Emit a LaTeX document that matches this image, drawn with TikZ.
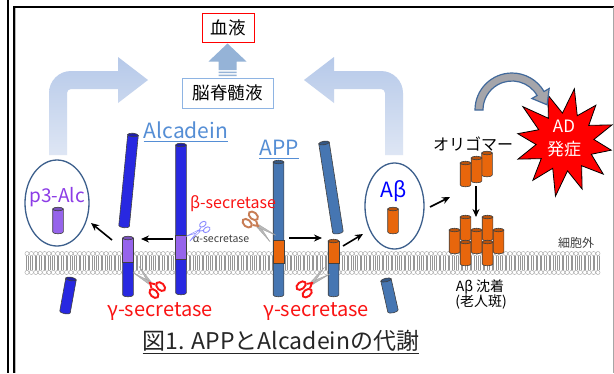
\documentclass[tikz,border=0pt]{standalone}
\usepackage{fontspec}
\setmainfont{Noto Sans CJK JP}
\usetikzlibrary{arrows.meta,shapes.geometric,calc}

\definecolor{alcblue}{RGB}{40,40,225}
\definecolor{appblue}{RGB}{70,118,178}
\definecolor{abor}{RGB}{232,102,12}
\definecolor{p3pur}{RGB}{150,100,235}
\definecolor{p3text}{RGB}{140,60,230}
\definecolor{labblue}{RGB}{85,142,213}
\definecolor{csfline}{RGB}{142,180,227}
\definecolor{csfblue}{RGB}{149,179,215}
\definecolor{flowtop}{RGB}{182,201,233}
\definecolor{flowbot}{RGB}{222,230,244}
\definecolor{ringblue}{RGB}{60,95,140}
\definecolor{gred}{RGB}{250,20,20}
\definecolor{lipid}{RGB}{150,150,150}
\definecolor{brownh}{RGB}{200,125,85}
\definecolor{captxt}{RGB}{38,38,38}
\definecolor{bendfill}{RGB}{165,165,170}
\definecolor{bendline}{RGB}{65,105,155}

\newcommand\fs[1]{\fontsize{#1}{#1}\selectfont}
\def\rw{5.3}
% cylinder pieces (vertical, y grows downwards)
\newcommand\rodbody[4]{\filldraw[fill=#4,rodedge] (#1-\rw,#2) -- (#1-\rw,#2+#3) arc[x radius=\rw,y radius=1.8,start angle=180,end angle=0] -- (#1+\rw,#2) -- cycle;}
\newcommand\rodseg[4]{\filldraw[fill=#4,rodedge] (#1-\rw,#2) rectangle (#1+\rw,#3);}
\newcommand\rodcap[3]{\filldraw[fill=#3,rodedge] (#1,#2) ellipse[x radius=\rw,y radius=1.8];}
\newcommand\tiltrod[5]{\begin{scope}[shift={(#1,#2)},rotate=#4]\rodbody{0}{0}{#3}{#5}\rodcap{0}{0}{#5!75!black}\end{scope}}

\begin{document}
\begin{tikzpicture}[x=1pt,y=-1pt,
  rodedge/.style={draw=black!75,line width=0.6pt},
  flow/.style={-{Stealth[length=8pt,width=7pt]},line width=1.6pt,black},
  ulabel/.style={text=labblue,font=\fs{21},inner sep=0pt},
  gtext/.style={text=gred,font=\fs{20},inner sep=0pt},
  ring/.style={draw=ringblue,line width=1.3pt,ellipse,inner sep=0pt},
  pics/shears/.style 2 args={code={
    \path[#2] (0,-1.4) -- (17,3.8) -- (0,1.4) -- cycle;
    \path[#2] (0,-1.4) -- (17,-3.8) -- (0,1.4) -- cycle;
    \path[#1] (-4.2,-2.4) -- (0,0) -- (-4.2,2.4);
    \path[#1] (-8.8,-4.2) ellipse[x radius=4.6,y radius=3];
    \path[#1] (-8.8,4.2) ellipse[x radius=4.6,y radius=3];
  }}]

\useasboundingbox (0,0) rectangle (614,373);
\fill[white] (0,0) rectangle (614,373);

% frame
\draw[line width=2.5pt] (8,0) -- (8,373);
\draw[line width=2pt] (13,7) -- (614,7);
\draw[line width=1.4pt] (14,7) -- (14,373);
\draw[gray!55,line width=0.8pt] (15.6,8) -- (15.6,373);
\draw[gray!70,line width=0.8pt] (613,7) -- (613,373);

% release routes into the fluid
\shade[top color=flowtop,bottom color=flowbot] (49,155) -- (49,93) arc[start angle=180,end angle=270,radius=22] -- (118,71) -- (118,57) -- (148,80) -- (118,103) -- (118,89) -- (71,89) arc[start angle=270,end angle=180,radius=4] -- (67,155) -- cycle;
\shade[top color=flowtop,bottom color=flowbot] (403,155) -- (403,93) arc[start angle=0,end angle=-90,radius=22] -- (334,71) -- (334,57) -- (304,80) -- (334,103) -- (334,89) -- (381,89) arc[start angle=-90,end angle=0,radius=4] -- (385,155) -- cycle;

% fluids
\node[draw=red,line width=1pt,minimum width=52pt,minimum height=29pt,inner sep=0pt,font=\fs{17.5}] (blood) at (228,27.5) {血液};
\node[draw=csfline,line width=1pt,minimum width=91pt,minimum height=30pt,inner sep=0pt,font=\fs{17.5}] (csf) at (227.5,93) {脳脊髄液};
\begin{scope}[shift={(csf.north)}]
  \fill[csfblue] (-9,-1.5) rectangle (9,-3) (-9,-4.5) rectangle (9,-6) (-9,-7.5) -- (-9,-16) -- (-19,-16) -- (0,-34) -- (19,-16) -- (9,-16) -- (9,-7.5) -- cycle;
\end{scope}

% lipid bilayer
\foreach \i in {0,...,130}{
  \pgfmathsetmacro\xx{27+4.392*\i}
  \draw[lipid,line width=0.35pt] (\xx-0.8,255.7) -- (\xx-0.8,262.6) (\xx+0.8,255.7) -- (\xx+0.8,262.6)
       (\xx-0.8,263.4) -- (\xx-0.8,270.3) (\xx+0.8,263.4) -- (\xx+0.8,270.3);
  \draw[lipid,line width=0.35pt,fill=white] (\xx,253.6) circle[radius=2.1];
  \draw[lipid,line width=0.35pt,fill=white] (\xx,272.4) circle[radius=2.1];
}
\node[font=\fs{12},text=black!75,inner sep=0pt] (outside) at (576,243) {細胞外};

% labels of the two precursors
\node[ulabel] (alclab) at (186,130) {Alcadein};
\draw[labblue,line width=0.9pt] ([yshift=-3pt]alclab.base west) -- ([yshift=-3pt]alclab.base east);
\node[ulabel] (applab) at (279,148) {APP};
\draw[labblue,line width=0.9pt] ([yshift=-3pt]applab.base west) -- ([yshift=-3pt]applab.base east);

% Alcadein: intact, cleaved ectodomain, stump, p3 pieces
\rodbody{181}{145}{148}{alcblue}\rodseg{181}{235}{259}{p3pur}\rodcap{181}{145}{alcblue!75!black}
\tiltrod{133}{135}{91.4}{-5.6}{alcblue}
\rodbody{128}{238}{57}{alcblue}\rodseg{128}{238}{262}{p3pur}\rodcap{128}{238}{p3pur!80!black}
\tiltrod{71}{279}{33.5}{-10.3}{alcblue}

% APP: intact, cleaved ectodomain, stump, lower piece
\rodbody{278.5}{162}{133}{appblue}\rodseg{278.5}{240}{263}{abor}\rodcap{278.5}{162}{appblue!75!black}
\tiltrod{324}{143}{90.1}{8.9}{appblue}
\rodbody{333.5}{241}{54}{appblue}\rodseg{333.5}{241}{263}{abor}\rodcap{333.5}{241}{abor!80!black}
\tiltrod{386}{280}{31.8}{12.7}{appblue}

% released fragments
\node[ring,minimum width=64pt,minimum height=86pt] (p3ring) at (57,203) {};
\node[text=p3text,font=\fs{19},inner sep=0pt] (p3lab) at (57,197) {p3-Alc};
\rodbody{58}{209}{23}{p3pur}\rodcap{58}{209}{p3pur!80!black}
\node[ring,minimum width=59pt,minimum height=86pt] (abring) at (394.5,206) {};
\node[text=blue,font=\fs{21},inner sep=0pt] (ablab) at (394,191) {Aβ};
\rodbody{393}{209}{23}{abor}\rodcap{393}{209}{abor!80!black}

% oligomer
\node[font=\fs{16},inner sep=0pt] (olig) at (473,144) {オリゴマー};
\rodbody{487}{153}{22}{abor}\rodcap{487}{153}{abor!80!black}
\rodbody{476.5}{158}{23}{abor}\rodcap{476.5}{158}{abor!80!black}
\rodbody{465.5}{163}{22}{abor}\rodcap{465.5}{163}{abor!80!black}

% plaque
\foreach \px/\py in {465.5/217,487.5/217,465.5/242,487.5/242,454.5/230,476.5/230,498.5/230}{
  \rodbody{\px}{\py}{22}{abor}\rodcap{\px}{\py}{abor!80!black}}
\node[font=\fs{14},inner sep=0pt] (dep1) at (480,287) {Aβ 沈着};
\node[font=\fs{14},inner sep=0pt] (dep2) at (481,302) {(老人斑)};

% secretases
\node[text=gred,font=\fs{16},inner sep=0pt] (beta) at (233,204) {β-secretase};
\node[text=black!75,font=\fs{10.5},inner sep=0pt] (alpha) at (221,239) {α-secretase};
\node[gtext] (gam1) at (160,312) {γ-secretase};
\node[gtext] (gam2) at (316,312) {γ-secretase};
\pic[rotate=215,scale=0.8] at (199,231) {shears={draw=blue!45,line width=0.9pt}{draw=blue!45,fill=white,line width=0.5pt}};
\pic[rotate=-40,scale=1.15] at (258,226) {shears={draw=brownh,line width=1.9pt}{fill=gray!55,draw=gray!75,line width=0.3pt}};
\pic[rotate=136,scale=1.15] at (150,283) {shears={draw=gred,line width=1.9pt}{fill=gray!55,draw=gray!75,line width=0.3pt}};
\pic[rotate=39,scale=1.15] at (312,283) {shears={draw=gred,line width=1.9pt}{fill=gray!55,draw=gray!75,line width=0.3pt}};

% processing steps
\coordinate (a1) at (173,239); \coordinate (a2) at (141,239);
\coordinate (a3) at (112,240); \coordinate (a4) at (91,223);
\coordinate (b1) at (289,238); \coordinate (b2) at (322,238);
\coordinate (b3) at (343,246); \coordinate (b4) at (363,234);
\coordinate (c1) at (430,207); \coordinate (c2) at (450,197);
\coordinate (c3) at (476,186); \coordinate (c4) at (476,217);
\draw[flow] (a1) -- (a2);
\draw[flow] (a3) -- (a4);
\draw[flow] (b1) -- (b2);
\draw[flow] (b3) -- (b4);
\draw[flow] (c1) -- (c2);
\draw[flow] (c3) -- (c4);

% onset burst
\foreach \a/\r [count=\k] in {80/54,65/29,50/48,35/29,20/50,5/29,-10/47,-25/29,-40/50,-55/29,-70/50,-85/29,-100/55,-115/29,-130/50,-145/29,-160/50,-175/29,170/48,155/29,140/55,125/29,110/50,95/29}
  \coordinate (s\k) at ({565+\r*cos(\a)},{142-\r*sin(\a)});
\filldraw[fill=red,draw=black,line width=0.8pt] (s1) \foreach \k in {2,...,24}{ -- (s\k)} -- cycle;
\node[text=white,font=\fs{17},inner sep=0pt] (adtxt) at (564,126) {AD};
\node[text=white,font=\fs{17},inner sep=0pt] (onset) at (564,149) {発症};

% bent arrow towards onset
\filldraw[fill=bendfill,draw=bendline,line width=1.2pt] (475,110) arc[start angle=180,end angle=330,radius=37] -- (549.2,88.5) -- (547.1,104.8) -- (531.9,98.5) -- (537.1,95.5) arc[start angle=330,end angle=180,radius=29] -- cycle;

% caption
\node[text=captxt,font=\fs{23},inner sep=0pt] (cap) at (281,341) {図1. APPとAlcadeinの代謝};
\draw[captxt,line width=1pt] ([yshift=-4pt]cap.base west) -- ([yshift=-4pt]cap.base east);
\end{tikzpicture}
\end{document}
